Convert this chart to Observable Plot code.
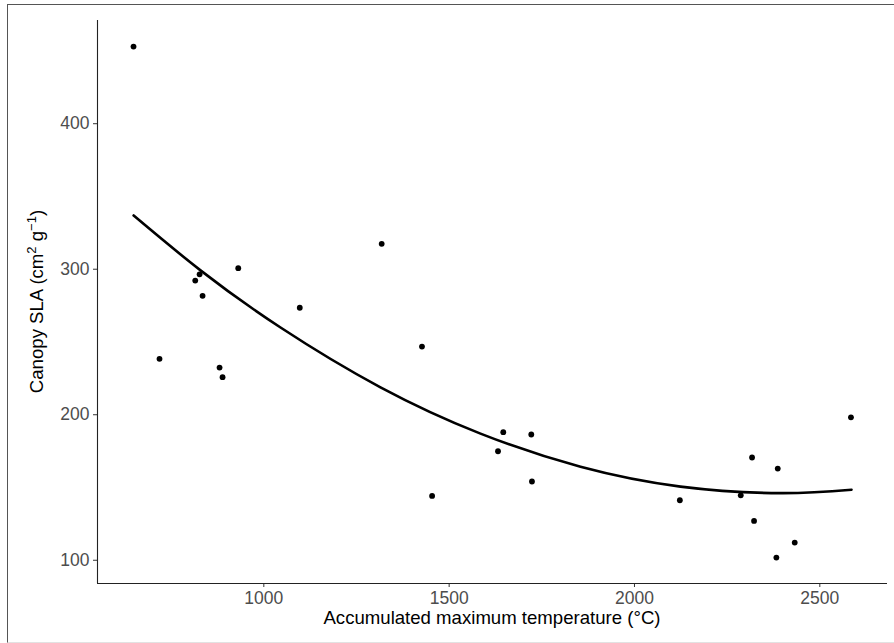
<!DOCTYPE html>
<html>
<head>
<meta charset="utf-8">
<script src="https://cdn.jsdelivr.net/npm/d3@7"></script>
<script src="https://cdn.jsdelivr.net/npm/@observablehq/plot@0.6"></script>
<style>
  html, body { margin: 0; padding: 0; background: #fff; }
  #wrap { position: relative; width: 894px; height: 643px; overflow: hidden; }
  #frame { position: absolute; left: 7px; top: 4px; width: 900px; height: 637px;
           border-left: 1.5px solid #555; border-top: 1.5px solid #555; border-bottom: 1px solid #e2e2e2;
           pointer-events: none; }
  svg { position: absolute; left: 0; top: 0; }
</style>
</head>
<body>
<div id="wrap"><div id="frame"></div></div>
<script>
// Observed points: accumulated maximum temperature (°C) vs canopy SLA (cm² g⁻¹)
const tempX = [648.5, 718.6, 815, 826.7, 834.8, 880.6, 888.7, 931, 1097, 1318,
               1426.7, 1454, 1631.8, 1646, 1721.6, 1723.4, 2122.4, 2286.7, 2317.2, 2322.6,
               2382.8, 2386.5, 2432.3, 2584];
const slaY  = [452.0, 237.4, 291.2, 295.5, 280.7, 231.4, 224.8, 299.7, 272.5, 316.4,
               245.8, 143.2, 173.9, 187.0, 185.4, 153.1, 140.2, 143.6, 169.6, 126.0,
               100.8, 162.0, 111.1, 197.2];

// Fitted curve
const fitX = [648.7, 829.2, 1045.1, 1314.8, 1584.6, 1854.4, 2124.2, 2394.0, 2585.6];
const fitY = [335.9, 298.2, 258.9, 217.8, 186.0, 163.2, 149.6, 145.1, 147.4];

const xTicks = [1000, 1500, 2000, 2500];
const yTicks = [100, 200, 300, 400];
const xDomain = [551.3, 2682.6];
const yDomain = [83.0, 469.9];

const points = tempX.map((x, i) => ({x, y: slaY[i]}));
const fit = fitX.map((x, i) => ({x, y: fitY[i]}));

const chart = Plot.plot({
  width: 894,
  height: 643,
  marginLeft: 97,
  marginTop: 20,
  marginRight: 7,
  marginBottom: 60,
  style: {fontFamily: "'Liberation Sans', Arial, sans-serif", background: "transparent", color: "#333"},
  x: {domain: xDomain},
  y: {domain: yDomain},
  marks: [
    Plot.axisX({ticks: xTicks, tickSize: 4, tickPadding: 4, fontSize: 17.5, label: null, tickFormat: d => String(d)}),
    Plot.axisY({ticks: yTicks, tickSize: 4, tickPadding: 4, fontSize: 17.5, label: null, dy: 1.5, tickFormat: d => String(d)}),
    Plot.ruleY([yDomain[0]], {x1: xDomain[0], x2: xDomain[1], stroke: "#222", strokeWidth: 1.1}),
    Plot.ruleX([xDomain[0]], {y1: yDomain[0], y2: yDomain[1], stroke: "#222", strokeWidth: 1.1}),
    Plot.dot(points, {x: "x", y: "y", r: 2.9, fill: "black", stroke: "none"}),
    Plot.line(fit, {x: "x", y: "y", curve: "natural", stroke: "black", strokeWidth: 2.6})
  ]
});

const svg = d3.select(chart);
svg.selectAll("g[aria-label='x-axis tick label'] text, g[aria-label='y-axis tick label'] text").attr("fill", "#4d4d4d");
svg.selectAll("g[aria-label='x-axis tick label'], g[aria-label='y-axis tick label']").attr("fill", "#4d4d4d");

// Axis titles
svg.append("text")
  .attr("x", 492).attr("y", 624.3)
  .attr("text-anchor", "middle")
  .attr("font-size", 18.6)
  .attr("fill", "black")
  .text("Accumulated maximum temperature (°C)");

const yl = svg.append("text")
  .attr("transform", "translate(43,301.5) rotate(-90)")
  .attr("text-anchor", "middle")
  .attr("font-size", 18.6)
  .attr("fill", "black");
yl.append("tspan").text("Canopy SLA (cm");
yl.append("tspan").attr("font-size", 13).attr("dy", -7.5).text("2");
yl.append("tspan").attr("dy", 7.5).text(" g");
yl.append("tspan").attr("font-size", 13).attr("dy", -7.5).text("\u22121");
yl.append("tspan").attr("dy", 7.5).text(")");

document.getElementById("wrap").prepend(chart);
</script>
</body>
</html>
